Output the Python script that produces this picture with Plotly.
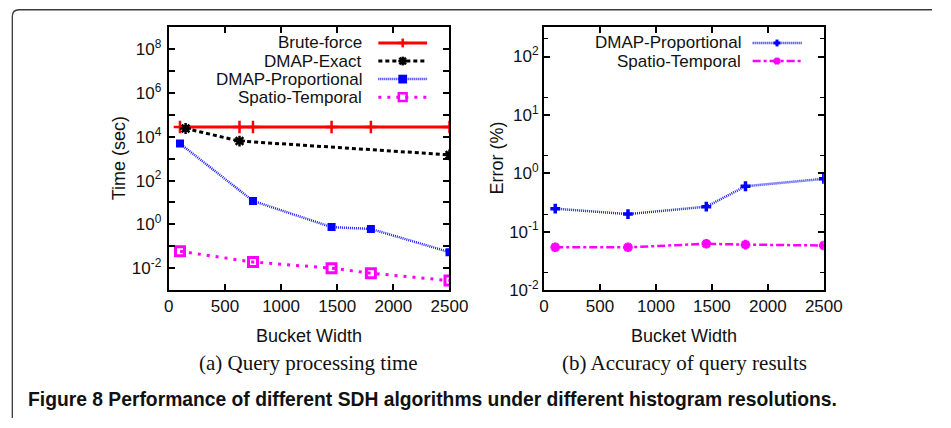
import plotly.graph_objects as go

# ---------------- data ----------------
bucket_bf = [100, 630, 750, 1450, 1800, 2500]
time_bf = [2.8e4, 2.8e4, 2.8e4, 2.8e4, 2.8e4, 2.8e4]
bucket_exact = [150, 630, 2500]
time_exact = [2.4e4, 6.4e3, 1.5e3]
bucket_prop = [100, 750, 1450, 1800, 2500]
time_prop = [4.9e3, 11.8, 0.75, 0.62, 0.054]
bucket_st = [100, 750, 1450, 1800, 2500]
time_st = [0.059, 0.019, 0.010, 0.0059, 0.0027]

bucket_err = [100, 750, 1450, 1800, 2500]
err_prop = [0.248, 0.20, 0.268, 0.60, 0.805]
err_st = [0.054, 0.054, 0.062, 0.060, 0.058]

x_ticks = [0, 500, 1000, 1500, 2000, 2500]
left_major_exps = [-2, 0, 2, 4, 6, 8]
left_minor_exps = [-1, 1, 3, 5, 7]
right_exps = [-2, -1, 0, 1, 2]
right_minor_vals = [0.02, 0.2, 2, 20, 200]

W, H = 951, 428
SANS = "Liberation Sans, Arial, Helvetica, sans-serif"
SERIF = "Liberation Serif, Times New Roman, serif"

RED, BLACK, BLUE, MAG = "#ff0000", "#000000", "#1a1aff", "#ff00ff"


def px(x):
    return x / W


def py(y):
    return 1 - y / H


fig = go.Figure()

# ---- left panel ----
fig.add_trace(go.Scatter(x=bucket_bf, y=time_bf, mode="lines+markers", name="Brute-force",
                         line=dict(color=RED, width=3),
                         marker=dict(symbol="cross-thin", size=9, line=dict(color=RED, width=2.5)),
                         xaxis="x", yaxis="y", showlegend=False))
fig.add_trace(go.Scatter(x=bucket_exact, y=time_exact, mode="lines+markers", name="DMAP-Exact",
                         line=dict(color=BLACK, width=3, dash="4px,3px"),
                         marker=dict(symbol="asterisk", size=9, line=dict(color=BLACK, width=2.5)),
                         xaxis="x", yaxis="y", showlegend=False))
fig.add_trace(go.Scatter(x=bucket_prop, y=time_prop, mode="lines+markers", name="DMAP-Proportional",
                         line=dict(color=BLUE, width=2.5, dash="1px,1px"),
                         marker=dict(symbol="square", size=8, color="#0000ff"),
                         xaxis="x", yaxis="y", showlegend=False))
fig.add_trace(go.Scatter(x=bucket_st, y=time_st, mode="lines+markers", name="Spatio-Temporal",
                         line=dict(color=MAG, width=3, dash="3px,6px"),
                         marker=dict(symbol="square-open", size=9, line=dict(color=MAG, width=3)),
                         xaxis="x", yaxis="y", showlegend=False))

# ---- right panel ----
fig.add_trace(go.Scatter(x=bucket_err, y=err_prop, mode="lines+markers", name="DMAP-Proportional",
                         line=dict(color=BLUE, width=2.5, dash="1px,1px"),
                         marker=dict(symbol="cross-thin", size=7, line=dict(color="#0000ff", width=3.5)),
                         xaxis="x2", yaxis="y2", showlegend=False))
fig.add_trace(go.Scatter(x=bucket_err, y=err_st, mode="lines+markers", name="Spatio-Temporal",
                         line=dict(color=MAG, width=2.5, dash="8px,3px,3px,3px"),
                         marker=dict(symbol="asterisk", size=8, line=dict(color=MAG, width=3)),
                         xaxis="x2", yaxis="y2", showlegend=False))

ydom = [py(297), py(28)]
tickfont = dict(family=SANS, size=17, color="#111")
xcommon = dict(range=[0, 2500], tickvals=x_ticks, ticks="inside", ticklen=6, tickwidth=1.5,
               tickcolor="black", mirror="allticks", showline=True, linewidth=2, linecolor="black",
               showgrid=False, zeroline=False, tickfont=tickfont)
fig.update_layout(
    xaxis=dict(domain=[px(168), px(456)], anchor="y", **xcommon),
    xaxis2=dict(domain=[px(553), px(840)], anchor="y2", **xcommon),
    yaxis=dict(domain=ydom, anchor="x", type="log", range=[-3, 9],
               tickvals=[10.0 ** e for e in left_major_exps],
               ticktext=["10<sup>%d</sup>" % e for e in left_major_exps],
               ticks="inside", ticklen=6, tickwidth=1.5, tickcolor="black", mirror="allticks",
               showline=True, linewidth=2, linecolor="black", showgrid=False, zeroline=False,
               minor=dict(tickvals=[10.0 ** e for e in left_minor_exps], ticks="inside", ticklen=6,
                          tickwidth=1.5, tickcolor="black"),
               ticklabelstandoff=2, tickfont=tickfont),
    yaxis2=dict(domain=ydom, anchor="x2", type="log", range=[-2, 2.5],
                tickvals=[10.0 ** e for e in right_exps],
                ticktext=["10<sup>%d</sup>" % e for e in right_exps],
                ticks="inside", ticklen=6, tickwidth=1.5, tickcolor="black", mirror="allticks",
                showline=True, linewidth=2, linecolor="black", showgrid=False, zeroline=False,
                minor=dict(tickvals=right_minor_vals, ticks="inside", ticklen=4,
                           tickwidth=1.2, tickcolor="black"),
                ticklabelstandoff=0, tickfont=tickfont),
    width=W, height=H, margin=dict(l=0, r=0, t=0, b=0),
    paper_bgcolor="white", plot_bgcolor="white", showlegend=False,
)

ann = []


def text(x, y, s, size=18, family=SANS, xanchor="center", angle=0, bold=False, color="#111"):
    ann.append(dict(x=px(x), y=py(y), xref="paper", yref="paper", text=("<b>%s</b>" % s) if bold else s,
                    showarrow=False, xanchor=xanchor, yanchor="middle", textangle=angle,
                    font=dict(family=family, size=size, color=color)))


text(117, 162, "Time (sec)", angle=-90)
text(505, 162, "Error (%)", angle=-90)
text(312, 344, "Bucket Width")
text(697, 344, "Bucket Width")
text(311, 372, "(a) Query processing time", size=21, family=SERIF)
text(697, 372, "(b) Accuracy of query results", size=21, family=SERIF)
text(22, 409, "Figure 8 Performance of different SDH algorithms under different histogram resolutions.",
     size=19.3, family=SANS, xanchor="left", bold=True, color="#111")

shapes = []

# outer rounded frame (top & left visible)
shapes.append(dict(type="path", xref="paper", yref="paper",
                   path="M %f,%f L %f,%f Q %f,%f %f,%f L %f,%f" % (
                       px(7.5), py(428), px(7.5), py(17), px(7.5), py(10), px(14.5), py(10), px(951), py(10)),
                   line=dict(color="#3a3a3a", width=1.3)))


def seg(x0, y0, x1, y1, color, width, dash="solid"):
    shapes.append(dict(type="line", xref="paper", yref="paper", x0=px(x0), y0=py(y0), x1=px(x1), y1=py(y1),
                       line=dict(color=color, width=width, dash=dash)))


def key_marker(kind, cx, cy, color, r=4.5, w=2.5):
    if kind in ("plus", "star"):
        seg(cx - r, cy, cx + r, cy, color, w)
        seg(cx, cy - r, cx, cy + r, color, w)
    if kind in ("x", "star"):
        d = r * 0.75
        seg(cx - d, cy - d, cx + d, cy + d, color, w)
        seg(cx - d, cy + d, cx + d, cy - d, color, w)
    if kind in ("square", "square-open"):
        shapes.append(dict(type="rect", xref="paper", yref="paper", x0=px(cx - r), x1=px(cx + r),
                           y0=py(cy - r), y1=py(cy + r),
                           fillcolor=color if kind == "square" else "rgba(0,0,0,0)",
                           line=dict(color=color, width=w if kind == "square-open" else 0)))


# left legend
left_leg = [("Brute-force", 44, RED, 3, "solid", "plus"),
            ("DMAP-Exact", 62.5, BLACK, 3, "4px,3px", "star"),
            ("DMAP-Proportional", 81, BLUE, 2.5, "1px,1px", "square"),
            ("Spatio-Temporal", 99.5, MAG, 3, "3px,6px", "square-open")]
for name, yy, col, w, dash, mk in left_leg:
    text(368, yy, name, size=17, xanchor="right")
    seg(383, yy, 433, yy, col, w, dash)
    key_marker(mk, 408, yy, col if col != BLUE else "#0000ff", r=4.5 if mk != "square-open" else 4, w=2.5)

right_leg = [("DMAP-Proportional", 44, BLUE, 2.5, "1px,1px", "plus"),
             ("Spatio-Temporal", 62.5, MAG, 2.5, "8px,3px,3px,3px", "star")]
for name, yy, col, w, dash, mk in right_leg:
    text(757, yy, name, size=17, xanchor="right")
    seg(767, yy, 818, yy, col, w, dash)
    key_marker(mk, 792, yy, col if col != BLUE else "#0000ff", r=3.5, w=3)

fig.update_layout(annotations=ann, shapes=shapes)
fig.write_html("out.html", config={"displayModeBar": False},
               post_script="document.body.style.margin='0';document.body.style.overflow='hidden';")
